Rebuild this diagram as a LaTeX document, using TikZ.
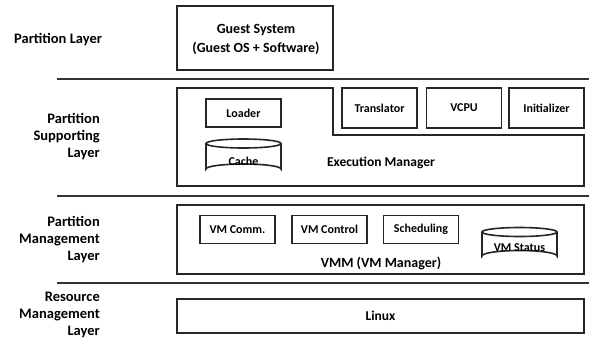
\documentclass[tikz,border=0pt]{standalone}
\usepackage{fontspec}
\setmainfont{Carlito}
\begin{document}
\begin{tikzpicture}[x=1pt,y=-1pt,
  box/.style={draw=black!85, line width=1.6pt},
  sep/.style={draw=black!80, line width=2pt},
  inner/.style={box, minimum width=75pt, minimum height=28pt, inner sep=0pt, font=\fontsize{12}{14}\selectfont\bfseries},
  lbl/.style={font=\fontsize{14.5}{17}\selectfont\bfseries, align=right, anchor=east, inner sep=0pt},
  big/.style={font=\fontsize{14}{19}\selectfont\bfseries, align=center, inner sep=0pt},
  ctext/.style={font=\fontsize{12}{14}\selectfont\bfseries, inner sep=0pt}]
\useasboundingbox (0,0) rectangle (589,338);

% layer labels
\node[lbl, anchor=west] (l1) at (14,40) {Partition Layer};
\node[lbl] (l2) at (100,137) {Partition\\Supporting\\Layer};
\node[lbl] (l3) at (100,240) {Partition\\Management\\Layer};
\node[lbl] (l4) at (100,314.5) {Resource\\Management\\Layer};

% separators between layers
\coordinate (s1a) at (57,79);  \coordinate (s1b) at (589,79);
\coordinate (s2a) at (57,196); \coordinate (s2b) at (589,196);
\coordinate (s3a) at (57,283); \coordinate (s3b) at (589,283);
\draw[sep] (s1a) -- (s1b);
\draw[sep] (s2a) -- (s2b);
\draw[sep] (s3a) -- (s3b);

% partition layer
\node[box, minimum width=156pt, minimum height=64pt, inner sep=0pt] (guest) at (255,38) {};
\node[big] (guesttxt) at (256,39) {Guest System\\(Guest OS + Software)};

% partition supporting layer
\draw[box] (177,88) -- (333,88) -- (333,135) -- (584,135) -- (584,186) -- (177,186) -- cycle;
\node[ctext, font=\fontsize{13.5}{15}\selectfont\bfseries] (exec) at (381,163) {Execution Manager};
\node[inner] (loader) at (243.5,113) {Loader};
\node[inner, minimum height=40pt] (trans) at (379.5,108) {Translator};
\node[inner, minimum height=40pt] (vcpu) at (464,108) {VCPU};
\node[inner, minimum height=40pt] (init) at (546.5,108) {Initializer};

% cache store
\draw[box] (206,143.5) -- (206,169) arc (180:360:37.5 and 5) -- (281,143.5);
\draw[box, fill=white] (243.5,143.5) ellipse (37.5 and 4.5);
\node[ctext] (cache) at (243.5,161.5) {Cache};

% partition management layer
\node[box, minimum width=407pt, minimum height=69pt, inner sep=0pt] (vmm) at (380.5,239.5) {};
\node[ctext, font=\fontsize{14}{16}\selectfont\bfseries] (vmmtxt) at (381,263) {VMM (VM Manager)};
\node[inner] (comm) at (237.5,229.5) {VM Comm.};
\node[inner] (ctrl) at (329.5,229.5) {VM Control};
\node[inner] (sched) at (421,229.5) {Scheduling};

% VM status store
\draw[box] (482,232) -- (482,256) arc (180:360:37.5 and 5.5) -- (557,232);
\draw[box, fill=white] (519.5,232) ellipse (37.5 and 4.5);
\node[ctext] (status) at (519.5,248) {VM Status};

% resource management layer
\node[box, minimum width=407pt, minimum height=34pt, inner sep=0pt, font=\fontsize{13.5}{15}\selectfont\bfseries] (linux) at (380.5,316) {Linux};
\end{tikzpicture}
\end{document}
